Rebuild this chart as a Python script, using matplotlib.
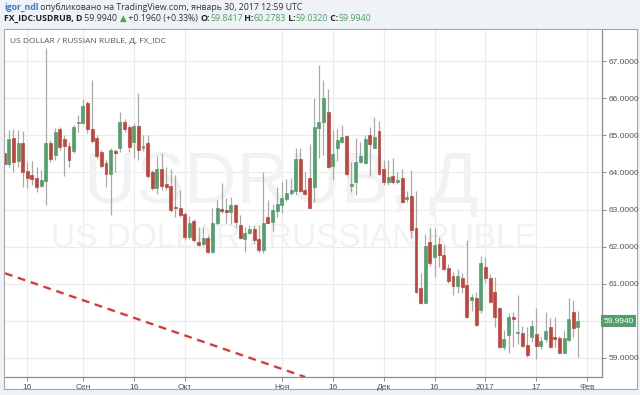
import matplotlib
matplotlib.use("Agg")
import matplotlib.pyplot as plt
import pandas as pd
from matplotlib.patches import Rectangle

# daily USDRUB bars, FX_IDC, 9 Aug 2016 .. 30 Jan 2017
dates = pd.bdate_range("2016-08-09", "2017-01-30")

opens = [
    64.53, 64.23, 64.94, 64.32, 64.80, 64.04, 63.93, 63.84, 63.64, 63.78,
    64.80, 64.47, 65.16, 64.89, 64.72, 64.59, 65.32, 65.34, 65.88, 65.16,
    64.94, 64.55, 64.24, 63.96, 64.59, 64.65, 65.37, 65.21, 64.83, 65.25,
    64.65, 64.78, 64.00, 63.57, 64.08, 63.68, 63.63, 63.08, 63.05, 62.88,
    62.25, 62.70, 62.13, 62.07, 62.22, 61.85, 62.63, 63.02, 62.99, 62.94,
    63.11, 62.57, 62.20, 62.38, 62.47, 62.20, 61.91, 62.81, 62.66, 62.97,
    63.12, 63.28, 63.44, 63.50, 64.35, 63.53, 63.84, 63.62, 65.20, 65.37,
    65.64, 64.18, 64.67, 64.81, 64.98, 63.64, 63.75, 64.29, 64.24, 65.02,
    64.67, 65.11, 64.08, 63.73, 63.91, 63.73, 63.84, 63.28, 63.36, 62.49,
    60.89, 60.49, 62.13, 61.73, 62.06, 61.77, 61.43, 61.22, 60.95, 61.15,
    60.97, 60.56, 60.61, 60.29, 61.46, 61.16, 60.79, 60.36, 59.30, 59.62,
    60.10, 59.66, 59.68, 59.34, 59.57, 59.64, 59.32, 59.50, 59.84, 59.56,
    59.53, 59.14, 59.49, 60.23, 59.8417,
]
highs = [
    64.60, 65.14, 65.16, 65.14, 65.12, 64.29, 64.32, 64.15, 64.07, 67.34,
    64.87, 65.19, 65.21, 65.01, 64.83, 65.28, 65.55, 65.99, 65.93, 66.49,
    65.01, 64.60, 64.33, 64.65, 64.62, 65.64, 65.43, 65.28, 65.32, 66.13,
    65.02, 65.01, 64.06, 64.44, 64.51, 64.15, 64.08, 63.93, 63.53, 62.94,
    62.82, 62.74, 62.52, 62.52, 62.31, 63.03, 63.27, 63.72, 63.30, 63.33,
    63.15, 62.85, 62.52, 62.58, 62.58, 62.58, 64.02, 63.26, 63.15, 63.60,
    63.75, 63.81, 63.84, 64.65, 64.65, 64.00, 64.76, 66.01, 66.89, 66.49,
    66.26, 65.14, 65.17, 65.29, 65.01, 64.27, 64.94, 64.81, 65.01, 65.23,
    65.50, 65.38, 64.33, 64.33, 64.40, 64.02, 64.09, 63.50, 64.06, 63.51,
    61.30, 62.34, 62.49, 62.49, 62.25, 62.04, 61.53, 61.33, 61.39, 61.30,
    62.18, 60.72, 60.79, 61.75, 61.71, 61.26, 61.19, 60.38, 59.75, 60.20,
    60.25, 60.70, 59.86, 59.84, 60.02, 60.34, 59.57, 60.25, 60.07, 60.11,
    59.59, 59.75, 60.61, 60.56, 60.2783,
]
lows = [
    64.15, 64.15, 64.02, 64.15, 63.62, 63.57, 63.66, 63.48, 63.62, 63.12,
    64.29, 64.33, 64.60, 63.89, 64.15, 64.51, 65.10, 65.30, 65.05, 64.78,
    64.38, 64.11, 63.62, 62.85, 64.02, 64.56, 65.10, 64.56, 64.38, 64.33,
    64.59, 63.84, 63.53, 63.42, 63.53, 63.53, 62.94, 62.81, 62.79, 62.18,
    62.20, 62.13, 62.02, 62.02, 61.82, 61.82, 62.58, 62.91, 62.65, 62.61,
    62.49, 62.20, 61.86, 62.34, 62.07, 61.86, 61.82, 62.63, 62.43, 62.79,
    62.90, 63.24, 63.39, 63.39, 63.46, 63.39, 63.01, 63.21, 64.38, 64.47,
    64.11, 63.80, 64.31, 64.78, 63.91, 63.48, 63.39, 64.24, 64.22, 63.89,
    64.65, 63.93, 63.66, 63.66, 63.70, 63.70, 63.17, 63.21, 62.22, 60.74,
    60.45, 60.47, 61.48, 61.19, 61.46, 61.37, 61.01, 60.70, 60.76, 60.74,
    60.07, 60.27, 59.86, 60.22, 61.01, 60.47, 59.84, 59.26, 59.22, 59.13,
    59.30, 59.39, 59.29, 59.04, 59.44, 58.96, 59.23, 59.44, 59.26, 59.30,
    59.13, 59.13, 59.47, 59.56, 59.0320,
]
closes = [
    64.23, 64.89, 64.29, 64.80, 64.02, 63.84, 63.81, 63.60, 63.79, 64.78,
    64.36, 65.10, 64.68, 64.71, 64.33, 65.21, 65.36, 65.80, 65.16, 64.85,
    64.44, 64.17, 63.97, 64.60, 64.51, 65.37, 65.16, 64.69, 65.25, 64.60,
    64.71, 63.89, 63.57, 64.08, 63.64, 63.62, 63.00, 63.04, 62.85, 62.25,
    62.65, 62.18, 62.04, 62.22, 61.85, 62.65, 63.03, 62.97, 62.93, 63.11,
    62.67, 62.22, 62.38, 62.47, 62.18, 61.91, 62.65, 62.65, 62.99, 63.15,
    63.30, 63.45, 63.53, 64.35, 63.50, 63.41, 63.03, 65.21, 65.37, 66.00,
    64.15, 64.49, 64.87, 64.96, 63.95, 63.68, 64.27, 64.45, 64.90, 64.76,
    64.96, 63.95, 63.73, 63.87, 63.75, 63.80, 63.21, 63.35, 62.45, 60.79,
    60.49, 62.02, 61.57, 62.04, 61.77, 61.41, 61.08, 60.95, 61.21, 60.92,
    60.11, 60.65, 59.89, 61.57, 61.15, 60.52, 60.11, 59.30, 59.50, 60.11,
    60.04, 59.70, 59.32, 59.07, 59.86, 59.32, 59.47, 59.73, 59.30, 59.52,
    59.14, 59.53, 60.06, 59.80, 59.9940,
]

price_ticks = [59, 60, 61, 62, 63, 64, 65, 66, 67]
time_tick_dates = ["2016-08-16", "2016-09-01", "2016-09-16", "2016-10-03", "2016-11-01",
                   "2016-11-16", "2016-12-01", "2016-12-16", "2017-01-02", "2017-01-17",
                   "2017-02-01"]
time_tick_labels = ["16", "Сен", "16", "Окт", "Ноя", "16", "Дек", "16", "2017", "17", "Фев"]

# hand drawn trend line, two anchor points (date, price)
trend_dates = ["2016-08-09", "2016-11-08"]
trend_prices = [61.29, 58.49]

UP, DOWN, WICK = "#53a06c", "#c4433a", "#a9a9a9"
W, H = 640, 395

fig = plt.figure(figsize=(6.4, 3.95), dpi=100, facecolor="#eff2f6")
fig.add_artist(Rectangle((4 / W, 1 - 389 / H), 633 / W, 360 / H, transform=fig.transFigure,
                         facecolor="white", edgecolor="#a2a7ad", lw=0.8, zorder=-1))

ax = fig.add_axes([5 / W, 1 - 377 / H, 597 / W, 347.5 / H])
ax.set_facecolor("white")

axis_days = pd.bdate_range("2016-08-09", "2017-02-10")
x = list(range(len(dates)))

# watermark
ax.text(0.462, 0.553, "USDRUB, Д", transform=ax.transAxes, ha="center", va="center",
        fontsize=52, color="#f2f2f2", family="Liberation Sans", zorder=0.6)
ax.text(0.484, 0.399, "US DOLLAR / RUSSIAN RUBLE", transform=ax.transAxes, ha="center",
        va="center", fontsize=24, color="#f2f2f2", family="Liberation Sans", zorder=0.6)

ax.vlines(x, lows, highs, color=WICK, lw=0.9, zorder=2)
for i in x:
    o, c = opens[i], closes[i]
    col = UP if c >= o else DOWN
    ax.bar(i, max(abs(c - o), 0.02), bottom=min(o, c), width=0.64, color=col,
           edgecolor=col, lw=0.5, zorder=3)

tx = [axis_days.get_loc(pd.Timestamp(d)) for d in trend_dates]
ax.axline((tx[0], trend_prices[0]), (tx[1], trend_prices[1]), color="#ee2b2b", lw=1.6,
          ls=(0, (3.5, 2.6)), zorder=4)

ax.set_xlim(0.17, 129.2)
ax.set_ylim(58.488, 67.85)

ax.set_xticks([axis_days.get_loc(pd.Timestamp(d)) for d in time_tick_dates])
ax.set_xticklabels(time_tick_labels)
ax.set_yticks(price_ticks)
# the 60.0000 label sits under the last-price marker
ax.set_yticklabels(["" if p == 60 else f"{p:.4f}" for p in price_ticks])
ax.yaxis.tick_right()
ax.grid(color="#ececec", lw=0.8)
ax.set_axisbelow(True)
ax.tick_params(axis="both", colors="#8a8a8a", labelcolor="#555555", labelsize=6,
               length=3, width=0.7, pad=2)
for lab in ax.get_xticklabels() + ax.get_yticklabels():
    lab.set_family("Liberation Sans")

for side in ("left", "top"):
    ax.spines[side].set_visible(False)
for side in ("right", "bottom"):
    ax.spines[side].set_color("#8c8c8c")
    ax.spines[side].set_linewidth(0.9)

# last price marker on the price scale
ax.text(1.002, closes[-1], f"{closes[-1]:.4f}", transform=ax.get_yaxis_transform(),
        ha="left", va="center", fontsize=6, color="white", family="Liberation Sans",
        bbox=dict(boxstyle="square,pad=0.28", fc="#53a06c", ec="none"), zorder=6,
        clip_on=False)

ax.text(0.009, 0.967, "US DOLLAR / RUSSIAN RUBLE, Д, FX_IDC", transform=ax.transAxes,
        ha="left", va="center", fontsize=6, color="#555555", family="Open Sans")


def header(y_px, pieces, size=6.3):
    renderer = fig.canvas.get_renderer()
    x_px = 4
    for text, color, weight in pieces:
        t = fig.text(x_px / W, 1 - y_px / H, text, color=color, fontweight=weight,
                     fontsize=size, ha="left", va="center", family=["Open Sans", "DejaVu Sans"])
        x_px += t.get_window_extent(renderer).width


DARK, GREEN = "#333333", "#3faa52"
header(7, [("igor_ndl", "#3c78c8", "bold"),
           (" опубликовано на TradingView.com, январь 30, 2017 12:59 UTC", DARK, "normal")])
header(18.5, [("FX_IDC:USDRUB, D", "#222222", "bold"), (" 59.9940 ", DARK, "normal"),
              ("▲", GREEN, "normal"), (" +0.1960 (+0.33%) ", DARK, "normal"),
              ("O:", "#222222", "bold"), ("59.8417", GREEN, "normal"),
              (" H:", "#222222", "bold"), ("60.2783", GREEN, "normal"),
              (" L:", "#222222", "bold"), ("59.0320", GREEN, "normal"),
              (" C:", "#222222", "bold"), ("59.9940", GREEN, "normal")])

fig.savefig("out.png", dpi=100, facecolor=fig.get_facecolor())
